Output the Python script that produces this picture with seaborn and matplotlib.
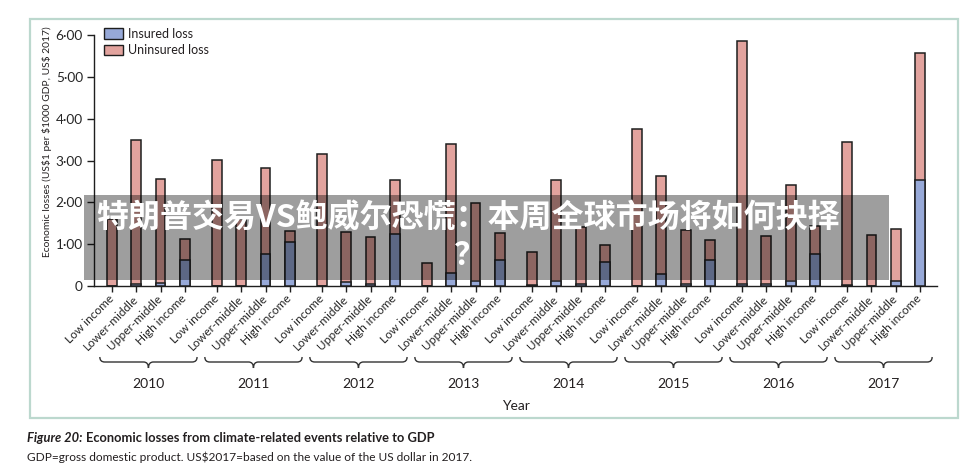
import numpy as np
import pandas as pd
import matplotlib
matplotlib.use("Agg")
import matplotlib.pyplot as plt
import seaborn as sns
from matplotlib.patches import Patch, Rectangle, PathPatch
from matplotlib.path import Path
from matplotlib.transforms import blended_transform_factory
from matplotlib.ticker import FuncFormatter

# ---------------- data ----------------
years = [2010, 2011, 2012, 2013, 2014, 2015, 2016, 2017]
income_groups = ["Low income", "Lower-middle", "Upper-middle", "High income"]

insured_loss = [
    0.00, 0.04, 0.08, 0.61,   # 2010
    0.00, 0.00, 0.76, 1.06,   # 2011
    0.00, 0.10, 0.04, 1.24,   # 2012
    0.00, 0.32, 0.13, 0.63,   # 2013
    0.02, 0.13, 0.05, 0.57,   # 2014
    0.01, 0.28, 0.05, 0.62,   # 2015
    0.04, 0.05, 0.13, 0.77,   # 2016
    0.02, 0.00, 0.12, 2.54,   # 2017
]
uninsured_loss = [
    1.60, 3.45, 2.47, 0.51,
    3.01, 1.60, 2.07, 0.26,
    3.16, 1.19, 1.14, 1.30,
    0.54, 3.08, 1.86, 0.63,
    0.79, 2.41, 1.37, 0.42,
    3.75, 2.34, 1.29, 0.47,
    5.81, 1.15, 2.29, 0.67,
    3.43, 1.23, 1.24, 3.03,
]
legend_labels = ["Insured loss", "Uninsured loss"]
y_ticks = [0, 1, 2, 3, 4, 5, 6]

# ---------------- styling ----------------
BLUE = "#97a9d8"
PINK = "#e2a39e"
EDGE = "#1e1e1e"
W, H = 975, 476
CJK = ["Noto Sans CJK SC", "DejaVu Sans"]

sns.set_theme(style="white")
plt.rcParams["font.family"] = ["Lato", "DejaVu Sans"]
plt.rcParams["text.color"] = "#231f20"

def fx(px):
    return px / W

def fy(py):
    return 1 - py / H

GROUP_STEP = 4.32
rows = []
for yi, yr in enumerate(years):
    for gi, grp in enumerate(income_groups):
        k = yi * 4 + gi
        rows.append(dict(year=yr, group=grp, pos=yi * GROUP_STEP + gi,
                         insured=insured_loss[k],
                         total=insured_loss[k] + uninsured_loss[k]))
df = pd.DataFrame(rows)

fig = plt.figure(figsize=(W / 100, H / 100), dpi=100)
ax = fig.add_axes([fx(94), fy(286), fx(937) - fx(94), fy(35) - fy(286)])

sns.barplot(data=df, x="pos", y="total", native_scale=True, color=PINK,
            saturation=1, edgecolor=EDGE, linewidth=1.1, width=0.4,
            errorbar=None, ax=ax, zorder=2)
sns.barplot(data=df, x="pos", y="insured", native_scale=True, color=BLUE,
            saturation=1, edgecolor=EDGE, linewidth=1.1, width=0.4,
            errorbar=None, ax=ax, zorder=3)

last = df["pos"].max()
ax.set_xlim(-0.74, last + 0.70)
ax.set_ylim(0, 6)
ax.set_yticks(y_ticks)
ax.yaxis.set_major_formatter(FuncFormatter(
    lambda v, p: "0" if v == 0 else f"{v:.2f}".replace(".", "\u00b7")))
ax.set_xticks(df["pos"])
ax.set_xticklabels(df["group"], rotation=45, ha="right", va="center",
                   rotation_mode="anchor", fontsize=8.6)
ax.tick_params(axis="y", labelsize=9.8, length=5, width=1, color=EDGE,
               left=True, pad=3)
ax.tick_params(axis="x", length=4, width=1, color=EDGE, bottom=True, pad=4)
ax.set_xlabel("")
ax.set_ylabel("")
for s in ["top", "right"]:
    ax.spines[s].set_visible(False)
for s in ["left", "bottom"]:
    ax.spines[s].set_color(EDGE)
    ax.spines[s].set_linewidth(1)

# y label
fig.text(fx(47), fy(142), "Economic losses (US$1 per $1000 GDP, US$ 2017)",
         rotation=90, ha="center", va="center", fontsize=7.4)

# braces and year labels
trans = blended_transform_factory(ax.transData, fig.transFigure)
yt, ym, ytip = fy(357), fy(362), fy(368)
r = 0.2
for yi, yr in enumerate(years):
    sub = df[df["year"] == yr]
    x0 = sub["pos"].min() - 0.5
    x1 = sub["pos"].max() + 0.5
    xm = (x0 + x1) / 2
    verts = [(x0, yt), (x0, ym), (x0 + r, ym), (xm - r, ym), (xm, ym), (xm, ytip),
             (xm, ym), (xm + r, ym), (x1 - r, ym), (x1, ym), (x1, yt)]
    codes = [Path.MOVETO, Path.CURVE3, Path.CURVE3, Path.LINETO, Path.CURVE3,
             Path.CURVE3, Path.CURVE3, Path.CURVE3, Path.LINETO, Path.CURVE3,
             Path.CURVE3]
    pp = PathPatch(Path(verts, codes), transform=trans, fill=False,
                   edgecolor="#333333", lw=1, clip_on=False)
    fig.add_artist(pp)
    fig.text(xm, fy(384), str(yr), transform=trans, ha="center", va="center",
             fontsize=10)

fig.text((fx(94) + fx(937)) / 2, fy(406), "Year", ha="center", va="center",
         fontsize=10)

# legend
handles = [Patch(facecolor=BLUE, edgecolor=EDGE, lw=1),
           Patch(facecolor=PINK, edgecolor=EDGE, lw=1)]
fig.legend(handles, legend_labels, loc="upper left",
           bbox_to_anchor=(fx(104), fy(28)), frameon=False, fontsize=9.0,
           handlelength=1.5, handleheight=0.95, handletextpad=0.4,
           labelspacing=0.35, borderpad=0, borderaxespad=0)

# frame box
fig.add_artist(Rectangle((fx(30), fy(418)), fx(958) - fx(30), fy(19) - fy(418),
                         transform=fig.transFigure, fill=False,
                         edgecolor="#bcd8ce", lw=1.6))

# caption
renderer = fig.canvas.get_renderer()
t1 = fig.text(fx(27), fy(438), "Figure 20:", fontsize=9.3, fontweight="bold",
              fontstyle="italic", ha="left", va="center")
bb = t1.get_window_extent(renderer=renderer)
fig.text(bb.x1 / W + fx(3), fy(438),
         "Economic losses from climate-related events relative to GDP",
         fontsize=9.3, fontweight="bold", ha="left", va="center")
fig.text(fx(27), fy(457),
         "GDP=gross domestic product. US$2017=based on the value of the US dollar in 2017.",
         fontsize=8.6, ha="left", va="center")

# overlay banner
fig.add_artist(Rectangle((fx(84), fy(280)), fx(889) - fx(84), fy(195) - fy(280),
                         transform=fig.transFigure, facecolor="black",
                         alpha=0.38, edgecolor="none", zorder=10))
fig.text(fx(468), fy(218), "特朗普交易VS鲍威尔恐慌：本周全球市场将如何抉择",
         ha="center", va="center", fontsize=23, fontweight="bold",
         color="white", family=CJK, zorder=11)
fig.text(fx(470), fy(256), "？", ha="center", va="center", fontsize=23,
         fontweight="bold", color="white", family=CJK, zorder=11)

fig.savefig("out.png", dpi=100)
